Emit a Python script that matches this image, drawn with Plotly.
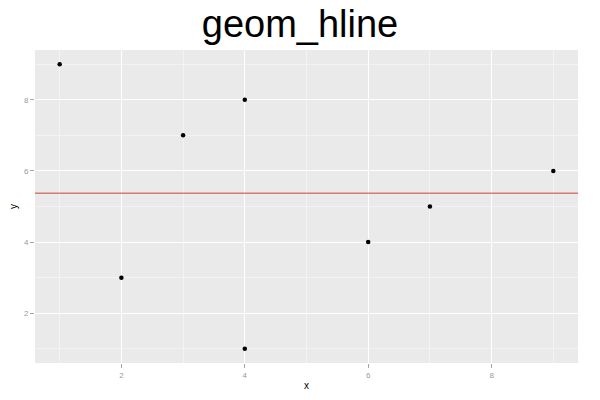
import plotly.graph_objects as go

x_vals = [1, 2, 3, 4, 4, 6, 7, 9]
y_vals = [9, 3, 7, 8, 1, 4, 5, 6]
hline_y = sum(y_vals) / len(y_vals)
tick_vals = [2, 4, 6, 8]

fig = go.Figure()
fig.add_trace(go.Scatter(x=x_vals, y=y_vals, mode="markers",
                         marker=dict(color="black", size=4.5), showlegend=False))
fig.add_hline(y=hline_y, line=dict(color="#C8423B", width=1))

axis_common = dict(
    tickvals=tick_vals, ticks="outside", ticklen=4, tickcolor="#A6A6A6",
    tickfont=dict(family="Liberation Sans, Arial", size=8, color="#9A9A9A"),
    showgrid=True, gridcolor="white", gridwidth=1.2, zeroline=False, showline=False,
    minor=dict(tickvals=[1, 3, 5, 7, 9], showgrid=True, gridcolor="#F3F3F3", gridwidth=0.6, ticks=""),
    range=[0.6, 9.4], automargin=False,
)
fig.update_xaxes(**axis_common, title=dict(text="x", font=dict(family="Liberation Sans, Arial", size=10, color="black"), standoff=3))
fig.update_yaxes(**axis_common, title=dict(text="y", font=dict(family="Liberation Sans, Arial", size=10, color="black"), standoff=4))

fig.update_layout(
    width=600, height=400,
    margin=dict(l=35, r=22, t=50, b=37),
    plot_bgcolor="#EAEAEA", paper_bgcolor="white",
    title=dict(text="geom_hline", x=0.5, xanchor="center", y=0.974, yanchor="top",
               font=dict(family="Liberation Sans, Arial", size=38, color="black")),
)
fig.write_html("out.html", config={"displayModeBar": False},
               post_script="document.body.style.margin='0';")
